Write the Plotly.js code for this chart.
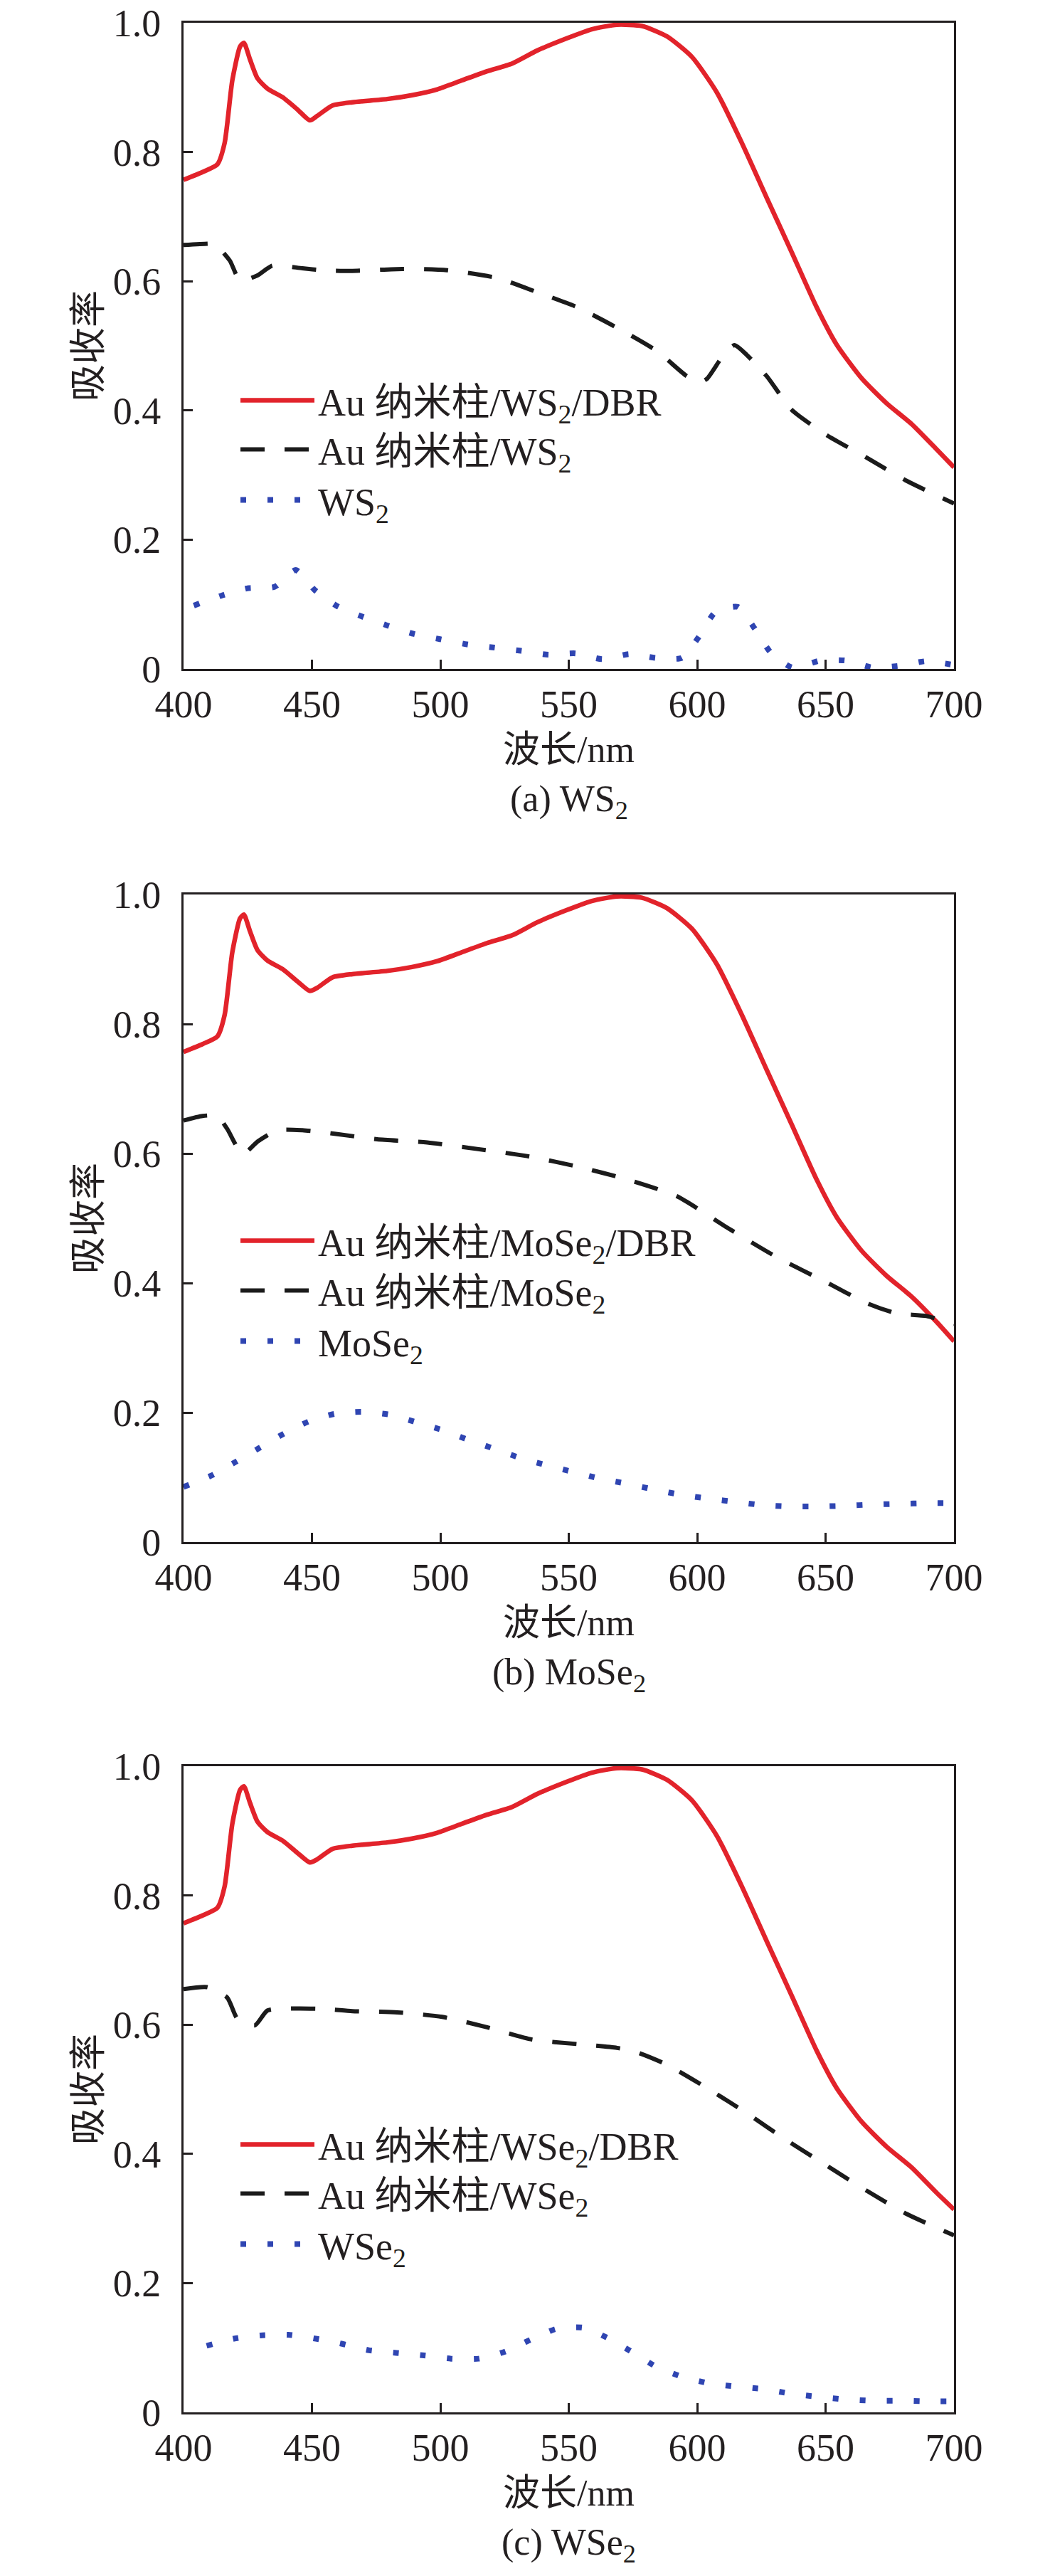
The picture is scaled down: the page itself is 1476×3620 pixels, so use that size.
<!DOCTYPE html>
<html>
<head>
<meta charset="utf-8">
<script src="https://cdn.plot.ly/plotly-3.0.1.min.js"></script>
<style>
html,body{margin:0;padding:0;background:#ffffff;}
#chart{width:1476px;height:3620px;}
</style>
</head>
<body>
<div id="chart"></div>
<script>
// ---------- data ----------
const panelCaptions = ["(a) WS<sub>2</sub>", "(b) MoSe<sub>2</sub>", "(c) WSe<sub>2</sub>"];
const namesA = ["Au 纳米柱/WS<sub>2</sub>/DBR", "Au 纳米柱/WS<sub>2</sub>", "WS<sub>2</sub>"];
const namesB = ["Au 纳米柱/MoSe<sub>2</sub>/DBR", "Au 纳米柱/MoSe<sub>2</sub>", "MoSe<sub>2</sub>"];
const namesC = ["Au 纳米柱/WSe<sub>2</sub>/DBR", "Au 纳米柱/WSe<sub>2</sub>", "WSe<sub>2</sub>"];
const xTitle = "波长/nm";
const yTitle = "吸收率";
const xTickVals = [400, 450, 500, 550, 600, 650, 700];
const yTickVals = [0, 0.2, 0.4, 0.6, 0.8, 1.0];
const yTickText = ["0", "0.2", "0.4", "0.6", "0.8", "1.0"];

// panel (a)
const xRedA = [400,407.4,413.2,416,419,422,423.5,425.9,428.8,432.7,438.5,444.3,449.2,452.1,458,465.7,479.3,489,498.8,508.5,518.2,528,537.7,549.3,559,568.8,578.5,588.2,598,607.7,617.4,627.1,636.8,646.5,654.3,664,673.8,683.5,693.2,700];
const yRedA = [0.757,0.769,0.781,0.814,0.911,0.963,0.969,0.943,0.914,0.898,0.885,0.866,0.849,0.856,0.872,0.877,0.882,0.888,0.897,0.911,0.925,0.937,0.957,0.976,0.990,0.997,0.995,0.979,0.947,0.892,0.814,0.729,0.645,0.560,0.502,0.450,0.411,0.379,0.340,0.312];
const xDashA = [400,409.3,412,418,422,428.8,434.6,446.3,454,465.7,485.2,502.7,522.1,537.7,553.2,568.8,584.3,596,600.9,603.8,609.6,614.5,619.3,627.1,636.8,650.4,666,681.6,700];
const yDashA = [0.656,0.658,0.658,0.632,0.601,0.609,0.624,0.620,0.617,0.616,0.619,0.617,0.605,0.583,0.560,0.528,0.492,0.453,0.444,0.449,0.482,0.501,0.486,0.453,0.401,0.362,0.327,0.291,0.256];
const xBlueA = [404,415.2,425.3,435.4,443.7,451.1,459.9,469.6,479.5,489.8,499.9,510.4,521,531.4,542.1,552.6,563.1,573.6,583.9,594,600.9,607.1,615.8,622.8,628.7,637.2,648.1,657.8,668.5,679,689.3,700];
const yBlueA = [0.098,0.114,0.125,0.127,0.153,0.122,0.097,0.081,0.067,0.054,0.046,0.038,0.033,0.028,0.022,0.024,0.015,0.023,0.017,0.017,0.051,0.088,0.096,0.060,0.025,0.002,0.013,0.013,0.002,0.005,0.012,0.006];

// panel (b)
const xRedB = [400,407.4,413.2,416,419,422,423.5,425.9,428.8,432.7,438.5,444.3,449.2,452.1,458,465.7,479.3,489,498.8,508.5,518.2,528,537.7,549.3,559,568.8,578.5,588.2,598,607.7,617.4,627.1,636.8,646.5,654.3,664,673.8,683.5,693.2,700];
const yRedB = [0.757,0.769,0.781,0.814,0.911,0.963,0.969,0.943,0.914,0.898,0.885,0.866,0.851,0.856,0.872,0.877,0.882,0.888,0.897,0.911,0.925,0.937,0.957,0.976,0.990,0.997,0.995,0.979,0.947,0.892,0.814,0.729,0.645,0.560,0.502,0.450,0.411,0.379,0.340,0.310];
const xDashB = [400,407.4,413.2,417,423,429,436.6,446.3,459.9,475.4,494.9,514.3,533.8,553.2,572.7,592.1,611.5,631,650.4,666,677.7,689.3,700];
const yDashB = [0.651,0.658,0.658,0.638,0.599,0.619,0.636,0.636,0.630,0.622,0.617,0.607,0.596,0.580,0.560,0.534,0.486,0.440,0.401,0.369,0.353,0.349,0.336];
const xBlueB = [400,411,420.4,429.4,438.9,448.6,458.9,469.4,480,490.6,500.7,510.8,521,531,541,551.9,562.2,572.7,583.4,593.7,604.4,614.9,625.5,636.2,646.9,657.6,668.3,679,689.3,700];
const yBlueB = [0.085,0.103,0.124,0.145,0.167,0.186,0.198,0.201,0.197,0.185,0.173,0.158,0.144,0.130,0.119,0.108,0.098,0.090,0.081,0.073,0.067,0.062,0.057,0.055,0.055,0.056,0.058,0.059,0.060,0.060];

// panel (c)
const xRedC = [400,407.4,413.2,416,419,422,423.5,425.9,428.8,432.7,438.5,444.3,449.2,452.1,458,465.7,479.3,489,498.8,508.5,518.2,528,537.7,549.3,559,568.8,578.5,588.2,598,607.7,617.4,627.1,636.8,646.5,654.3,664,673.8,683.5,693.2,700];
const yRedC = [0.757,0.769,0.781,0.814,0.911,0.963,0.969,0.943,0.914,0.898,0.885,0.866,0.851,0.856,0.872,0.877,0.882,0.888,0.897,0.911,0.925,0.937,0.957,0.976,0.990,0.997,0.995,0.979,0.947,0.892,0.814,0.729,0.645,0.560,0.502,0.450,0.411,0.379,0.340,0.314];
const xDashC = [400,409.3,417,421,427.8,432.7,444.3,456,465.7,483.2,500.7,518.2,535.7,553.2,568.8,576.6,588.2,603.8,619.3,634.9,650.4,666,681.6,700];
const yDashC = [0.655,0.658,0.642,0.609,0.599,0.622,0.625,0.624,0.621,0.619,0.612,0.596,0.577,0.570,0.564,0.557,0.538,0.502,0.463,0.421,0.382,0.343,0.307,0.274];
const xBlueC = [409,419.6,430,440.8,451.5,461.8,472.3,482.8,493.7,504.2,514.9,525.2,534.9,545,555.6,565.7,574.8,583.9,594.2,604.5,615,625.7,636.4,647.1,657.6,668.3,679,689.7,700];
const yBlueC = [0.103,0.114,0.119,0.120,0.114,0.106,0.096,0.092,0.088,0.083,0.083,0.094,0.112,0.129,0.131,0.114,0.093,0.071,0.055,0.045,0.040,0.036,0.029,0.024,0.020,0.018,0.018,0.017,0.017];

// ---------- styling ----------
const W = 1476, H = 3620;
const SERIF = "'Liberation Serif', 'Times New Roman', 'Noto Sans CJK SC', serif";
const INK = "#231f20";
const RED = "#e2232b", BLACK = "#1b1b1b", BLUE = "#2f45b2";

const panels = [
  {names: namesA, red: [xRedA, yRedA], dash: [xDashA, yDashA], blue: [xBlueA, yBlueA], top: 32, bottom: 940, rows: [567, 636, 707]},
  {names: namesB, red: [xRedB, yRedB], dash: [xDashB, yDashB], blue: [xBlueB, yBlueB], top: 1257, bottom: 2167, rows: [1748, 1818, 1889]},
  {names: namesC, red: [xRedC, yRedC], dash: [xDashC, yDashC], blue: [xBlueC, yBlueC], top: 2482, bottom: 3390, rows: [3018, 3087, 3158]}
];
const LEG_OFFSET = 46; // legend box top to row centre (px)

const traces = [];
const layout = {
  width: W, height: H,
  margin: {l: 0, r: 0, t: 0, b: 0},
  paper_bgcolor: "#ffffff", plot_bgcolor: "#ffffff",
  font: {family: SERIF, color: INK, size: 52},
  showlegend: true,
  annotations: []
};

let legN = 0;
function nextLegend(rowY) {
  legN += 1;
  const key = "legend" + (legN === 1 ? "" : legN);
  layout[key] = {
    visible: true,
    x: 333 / W, xanchor: "left", y: 1 - (rowY - LEG_OFFSET) / H, yanchor: "top",
    bgcolor: "rgba(0,0,0,0)", borderwidth: 0, itemwidth: 104,
    font: {family: SERIF, size: 54, color: INK}
  };
  return key;
}

panels.forEach((p, i) => {
  const k = i === 0 ? "" : String(i + 1);
  const xa = "x" + k, ya = "y" + k;
  const common = {type: "scatter", mode: "lines", xaxis: xa, yaxis: ya, hoverinfo: "skip", showlegend: true};
  traces.push(Object.assign({}, common, {x: p.red[0], y: p.red[1], name: p.names[0], legend: nextLegend(p.rows[0]),
    line: {color: RED, width: 6.5, shape: "spline", smoothing: 0.6}}));
  traces.push(Object.assign({}, common, {x: p.dash[0], y: p.dash[1], name: p.names[1], legend: nextLegend(p.rows[1]),
    line: {color: BLACK, width: 6, dash: "34px,28px", shape: "spline", smoothing: 0.6}}));
  traces.push(Object.assign({}, common, {x: p.blue[0], y: p.blue[1], name: p.names[2], legend: nextLegend(p.rows[2]),
    line: {color: BLUE, width: 8, dash: "8px,30px", shape: "spline", smoothing: 0.6}}));

  const dom = [1 - p.bottom / H, 1 - p.top / H];
  layout["xaxis" + k] = {
    domain: [258 / W, 1341 / W], anchor: ya, range: [400, 700],
    tickvals: xTickVals, ticks: "inside", ticklen: 13, tickwidth: 3, tickcolor: INK,
    showline: true, linewidth: 3, linecolor: INK, mirror: true, showgrid: false, zeroline: false,
    tickfont: {family: SERIF, size: 54, color: INK}, ticklabelstandoff: 0,
    title: {text: xTitle, standoff: 16, font: {family: SERIF, size: 52, color: INK}}
  };
  layout["yaxis" + k] = {
    domain: dom, anchor: xa, range: [0, 1],
    tickvals: yTickVals, ticktext: yTickText, ticks: "inside", ticklen: 13, tickwidth: 3, tickcolor: INK,
    showline: true, linewidth: 3, linecolor: INK, mirror: true, showgrid: false, zeroline: false,
    tickfont: {family: SERIF, size: 54, color: INK}, ticklabelstandoff: 18,
    title: {text: yTitle, standoff: 0, font: {family: SERIF, size: 52, color: INK}}
  };
  layout.annotations.push({
    text: panelCaptions[i], xref: xa + " domain", yref: ya + " domain", x: 0.5, y: 0,
    xanchor: "center", yanchor: "middle", yshift: -186, showarrow: false,
    font: {family: SERIF, size: 52, color: INK}
  });
});

Plotly.newPlot("chart", traces, layout, {staticPlot: true, displayModeBar: false});
</script>
</body>
</html>
